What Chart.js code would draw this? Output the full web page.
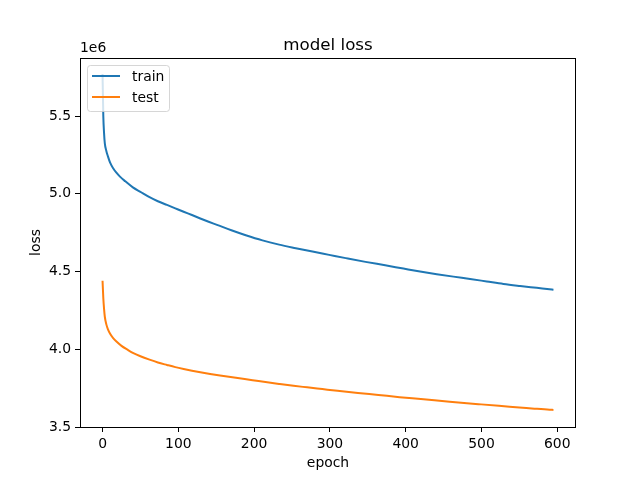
<!DOCTYPE html>
<html><head><meta charset="utf-8">
<script src="https://cdn.jsdelivr.net/npm/chart.js@4"></script>
<style>html,body{margin:0;padding:0;background:#fff}</style>
</head><body>
<canvas id="c" width="640" height="480"></canvas>
<script>
// values in units of 1e6
const trainEpochs = [0,1,2,3,5,7,10,14,18,23,30,40,50,62,73,85,96,107,118,129,140,151,170,189,211,233,255,277,299,321,347,373,397,419,441,463,485,507,529,551,573,593,595];
const trainLoss   = [5.77,5.50,5.39,5.324,5.275,5.242,5.20,5.164,5.137,5.11,5.08,5.041,5.012,4.978,4.952,4.928,4.906,4.884,4.863,4.841,4.82,4.80,4.765,4.733,4.70,4.673,4.65,4.628,4.607,4.586,4.562,4.54,4.519,4.50,4.483,4.467,4.452,4.436,4.42,4.407,4.395,4.384,4.383];
const testEpochs  = [0,1,2,3,5,7,10,14,18,25,33,40,50,62,73,85,96,107,118,129,142,155,176,198,215,233,252,270,290,310,337,364,392,420,458,496,523,550,570,590,595];
const testLoss    = [4.44,4.33,4.26,4.209,4.16,4.13,4.10,4.072,4.051,4.022,3.997,3.977,3.955,3.933,3.915,3.899,3.885,3.873,3.862,3.852,3.841,3.831,3.816,3.801,3.789,3.777,3.765,3.755,3.744,3.733,3.719,3.706,3.692,3.68,3.663,3.647,3.636,3.626,3.618,3.611,3.61];
const xTicks = [0,100,200,300,400,500,600];
const yTicks = [3.5,4.0,4.5,5.0,5.5];
const seriesNames = ['train','test'];
const seriesColors = ['#1f77b4','#ff7f0e'];
const titleText = 'model loss';
const xLabel = 'epoch';
const yLabel = 'loss';
const offsetText = '1e6';

const FONT = '"DejaVu Sans", sans-serif';

const decor = {
  id: 'decor',
  afterDatasetsDraw(chart) {
    const ctx = chart.ctx;
    ctx.save();
    const lx = 87.5, ly = 65.5, lw = 82, lh = 46, r = 3;
    ctx.beginPath();
    ctx.moveTo(lx + r, ly);
    ctx.arcTo(lx + lw, ly, lx + lw, ly + lh, r);
    ctx.arcTo(lx + lw, ly + lh, lx, ly + lh, r);
    ctx.arcTo(lx, ly + lh, lx, ly, r);
    ctx.arcTo(lx, ly, lx + lw, ly, r);
    ctx.closePath();
    ctx.fillStyle = 'rgba(255,255,255,0.8)';
    ctx.fill();
    ctx.strokeStyle = 'rgba(204,204,204,0.8)';
    ctx.lineWidth = 1;
    ctx.stroke();
    ctx.font = '13.9px ' + FONT;
    ctx.textBaseline = 'alphabetic';
    ctx.textAlign = 'left';
    seriesNames.forEach((n, i) => {
      const y = 76 + i * 21;
      ctx.strokeStyle = seriesColors[i];
      ctx.lineWidth = 2;
      ctx.beginPath(); ctx.moveTo(92, y); ctx.lineTo(120, y); ctx.stroke();
      ctx.fillStyle = '#000';
      ctx.fillText(n, 132, y + 5);
    });
    ctx.restore();
  },
  afterDraw(chart) {
    const ctx = chart.ctx, a = chart.chartArea;
    ctx.save();
    ctx.strokeStyle = '#000';
    ctx.lineWidth = 1;
    ctx.strokeRect(Math.round(a.left) + 0.5, Math.round(a.top) + 0.5, Math.round(a.right - a.left) - 1, Math.round(a.bottom - a.top));
    ctx.fillStyle = '#000';
    ctx.textAlign = 'center';
    ctx.textBaseline = 'alphabetic';
    ctx.font = '16.7px ' + FONT;
    ctx.fillText(titleText, (a.left + a.right) / 2, 50);
    ctx.font = '13.9px ' + FONT;
    ctx.fillText(xLabel, (a.left + a.right) / 2, 467);
    ctx.textAlign = 'left';
    ctx.fillText(offsetText, a.left, 52);
    ctx.translate(40, (a.top + a.bottom) / 2);
    ctx.rotate(-Math.PI / 2);
    ctx.textAlign = 'center';
    ctx.fillText(yLabel, 0, 0);
    ctx.restore();
  }
};

new Chart(document.getElementById('c'), {
  type: 'line',
  data: {
    datasets: [
      { label: seriesNames[0], data: trainEpochs.map((e, i) => ({x: e, y: trainLoss[i]})),
        borderColor: seriesColors[0], borderWidth: 2, pointRadius: 0, fill: false, cubicInterpolationMode: 'monotone' },
      { label: seriesNames[1], data: testEpochs.map((e, i) => ({x: e, y: testLoss[i]})),
        borderColor: seriesColors[1], borderWidth: 2, pointRadius: 0, fill: false, cubicInterpolationMode: 'monotone' }
    ]
  },
  options: {
    responsive: false,
    animation: false,
    layout: { padding: { left: 0, top: 58, right: 64, bottom: 0 } },
    plugins: { legend: { display: false }, title: { display: false }, tooltip: { enabled: false } },
    scales: {
      x: {
        type: 'linear', min: -29.75, max: 624.75,
        afterBuildTicks: s => { s.ticks = xTicks.map(v => ({value: v})); },
        afterFit: s => { s.height = 53; },
        grid: { drawOnChartArea: false, drawTicks: true, tickLength: 5, color: '#000', lineWidth: 1 },
        border: { display: false },
        ticks: { color: '#000', font: { family: FONT, size: 13.9 }, padding: 4, maxRotation: 0, autoSkip: false, callback: v => String(v) }
      },
      y: {
        type: 'linear', min: 3.5, max: 5.873,
        afterBuildTicks: s => { s.ticks = yTicks.map(v => ({value: v})); },
        afterFit: s => { s.width = 80; },
        grid: { drawOnChartArea: false, drawTicks: true, tickLength: 5, color: '#000', lineWidth: 1 },
        border: { display: false },
        ticks: { color: '#000', font: { family: FONT, size: 13.9 }, padding: 4, autoSkip: false, callback: v => Number(v).toFixed(1) }
      }
    }
  },
  plugins: [decor]
});
</script>
</body></html>
